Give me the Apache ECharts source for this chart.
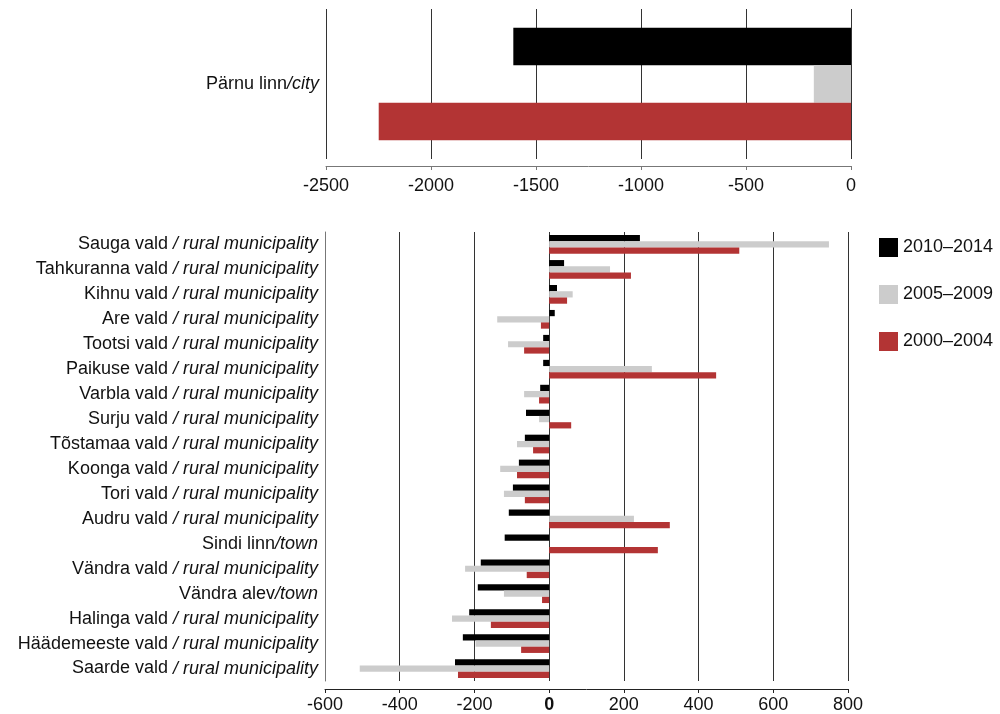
<!DOCTYPE html>
<html><head><meta charset="utf-8">
<script src="https://cdn.jsdelivr.net/npm/echarts@6/dist/echarts.min.js"></script>
<style>html,body{margin:0;padding:0;background:#fff}#c{width:1000px;height:714px}</style>
</head><body><div id="c"></div>
<script>
// ---- data ----
const seriesNames = ['2010–2014', '2005–2009', '2000–2004'];
const topCategories = [['Pärnu linn', '/city']];
const top2010 = [-1608];
const top2005 = [-177];
const top2000 = [-2249];

const categories = [
  ['Sauga vald', ' / rural municipality'],
  ['Tahkuranna vald', ' / rural municipality'],
  ['Kihnu vald', ' / rural municipality'],
  ['Are vald', ' / rural municipality'],
  ['Tootsi vald', ' / rural municipality'],
  ['Paikuse vald', ' / rural municipality'],
  ['Varbla vald', ' / rural municipality'],
  ['Surju vald', ' / rural municipality'],
  ['Tõstamaa vald', ' / rural municipality'],
  ['Koonga vald', ' / rural municipality'],
  ['Tori vald', ' / rural municipality'],
  ['Audru vald', ' / rural municipality'],
  ['Sindi linn', '/town'],
  ['Vändra vald', ' / rural municipality'],
  ['Vändra alev', '/town'],
  ['Halinga vald', ' / rural municipality'],
  ['Häädemeeste vald', ' / rural municipality'],
  ['Saarde vald', ' / rural municipality']
];
const v2010 = [243, 40, 21, 15, -16, -16, -24, -62, -65, -81, -97, -108, -119, -183, -191, -214, -231, -252];
const v2005 = [749, 163, 63, -139, -110, 275, -67, -27, -86, -131, -121, 227, 0, -225, -121, -260, -197, -507];
const v2000 = [509, 219, 48, -22, -67, 447, -27, 59, -43, -86, -65, 323, 291, -60, -19, -156, -75, -244];

const topTicks = {min: -2500, max: 0, interval: 500};
const botTicks = {min: -600, max: 800, interval: 200};

const colors = ['#000000', '#cccccc', '#b33434'];
const FONT = 'Liberation Sans, Arial, sans-serif';
const FS = 18;

const catLabel = {
  color: '#111', fontFamily: FONT, fontSize: FS,
  formatter: function (v) { const p = v.split('|'); return '{n|' + p[0] + '}{i|' + p[1] + '}'; },
  rich: {
    n: {fontFamily: FONT, fontSize: FS, color: '#111'},
    i: {fontFamily: FONT, fontSize: FS, color: '#111', fontStyle: 'italic'}
  }
};
const gridLine = {show: true, lineStyle: {color: '#333', width: 1}};

const chart = echarts.init(document.getElementById('c'));
function mk(name, data, idx, xi) {
  return {
    name: name, type: 'bar', xAxisIndex: xi, yAxisIndex: xi, data: data,
    itemStyle: {color: colors[idx]}, barGap: '0%', barCategoryGap: '25%',
    animation: false
  };
}
chart.setOption({
  animation: false,
  legend: {
    orient: 'vertical', left: 874, top: 233, itemWidth: 19, itemHeight: 19, itemGap: 28,
    icon: 'rect', data: seriesNames,
    textStyle: {fontFamily: FONT, fontSize: FS, color: '#111'}
  },
  grid: [
    {left: 326, right: 149, top: 9, bottom: 555},
    {left: 325, right: 152, top: 232, bottom: 33}
  ],
  xAxis: [
    {type: 'value', gridIndex: 0, min: topTicks.min, max: topTicks.max, interval: topTicks.interval,
     offset: 7, axisLine: {show: true, lineStyle: {color: '#777'}},
     axisTick: {show: true, length: 4, lineStyle: {color: '#777'}},
     splitLine: gridLine,
     axisLabel: {fontFamily: FONT, fontSize: FS, color: '#111', margin: 11,
       formatter: function (v) { return String(v); }}},
    {type: 'value', gridIndex: 1, min: botTicks.min, max: botTicks.max, interval: botTicks.interval,
     offset: 8, axisLine: {show: true, lineStyle: {color: '#222'}},
     axisTick: {show: true, length: 4, lineStyle: {color: '#222'}},
     splitLine: gridLine,
     axisLabel: {fontFamily: FONT, fontSize: FS, color: '#111', margin: 7,
       formatter: function (v) { return v === 0 ? '{b|0}' : String(v); },
       rich: {b: {fontFamily: FONT, fontSize: FS, fontWeight: 'bold', color: '#111'}}}}
  ],
  yAxis: [
    {type: 'category', gridIndex: 0, inverse: true, data: topCategories.map(c => c.join('|')),
     axisLine: {show: false}, axisTick: {show: false}, axisLabel: Object.assign({margin: 7}, catLabel)},
    {type: 'category', gridIndex: 1, inverse: true, data: categories.map(c => c.join('|')),
     axisLine: {show: true, onZero: false, lineStyle: {color: '#777'}}, axisTick: {show: false},
     axisLabel: Object.assign({margin: 7}, catLabel)}
  ],
  series: [
    mk(seriesNames[0], top2010, 0, 0),
    mk(seriesNames[1], top2005, 1, 0),
    mk(seriesNames[2], top2000, 2, 0),
    mk(seriesNames[0], v2010, 0, 1),
    mk(seriesNames[1], v2005, 1, 1),
    mk(seriesNames[2], v2000, 2, 1)
  ]
});
</script></body></html>
